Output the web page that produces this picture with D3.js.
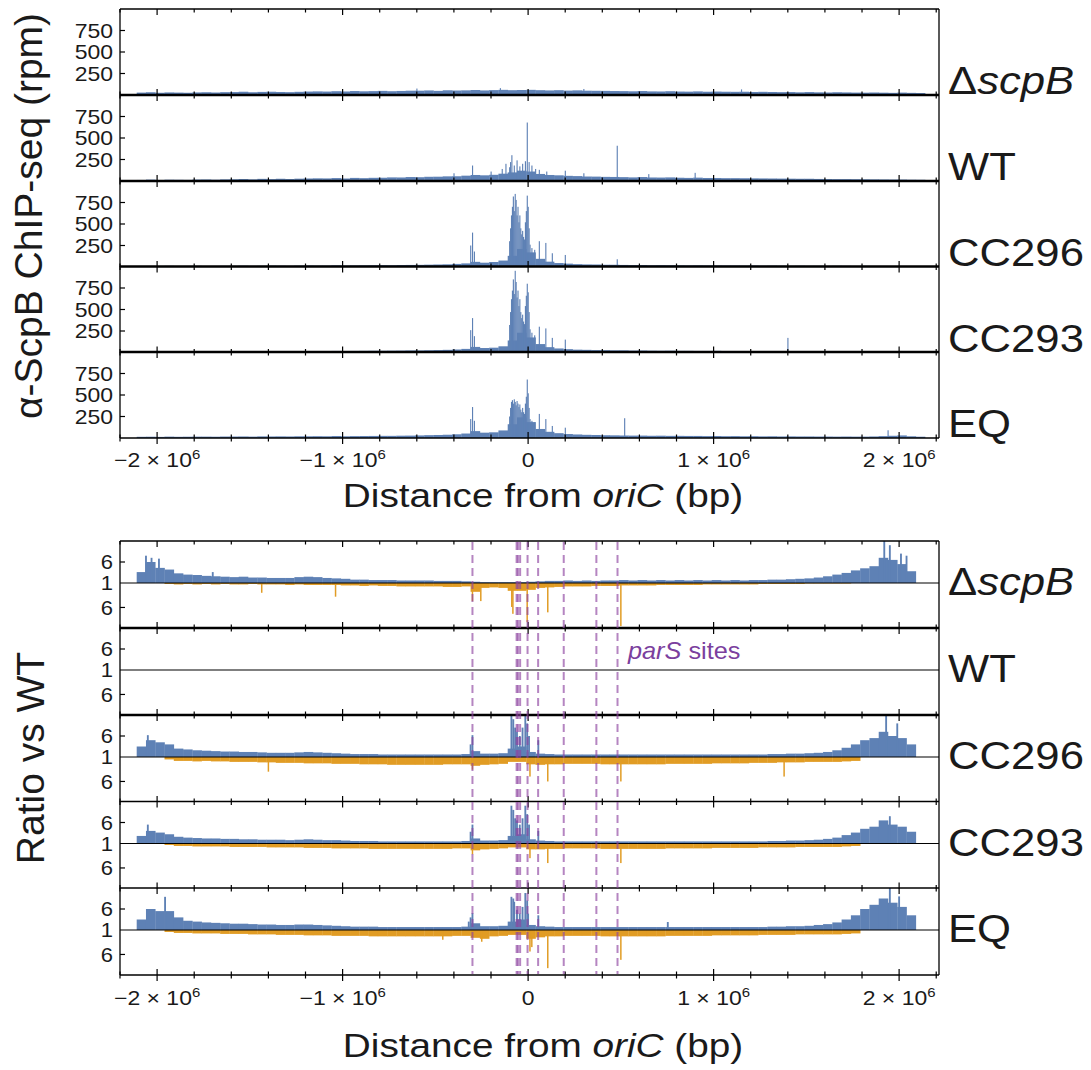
<!DOCTYPE html>
<html><head><meta charset="utf-8">
<script src="https://cdn.jsdelivr.net/npm/d3@7"></script>
<style>
body{margin:0;background:#fff}
text{font-family:"Liberation Sans",Arial,Helvetica,sans-serif;fill:#1a1a1a}
</style></head>
<body><svg id="chart" width="1091" height="1070"></svg>
<script>
// ---------------- DATA ----------------
const binStart = -2110000, binSize = 50000;
const sampleNames = ["ΔscpB", "WT", "CC296", "CC293", "EQ"];

// ChIP-seq background (rpm), 50 kb bins
const chipDeltaScpB = [28,32,26,30,28,26,30,32,29,33, 34,38,32,36,38,35,33,37,40,42, 40,44,41,46,43,45,48,44,47,50, 50,53,48,55,52,54,58,53,57,60,56,58, 60,56,53,56,51,54,50,49,48,46,45, 43,46,42,41,44,40,39,42,38,40,38,37, 38,35,37,35,33,34,31,34,31,29,32, 30,28,27,29,27,25,28,25,23];
const chipWT = [12,16,12,15,14,13,17,18,15,19, 20,23,19,25,22,26,23,27,29,31, 30,34,29,36,33,37,38,42,41,46, 44,49,50,54,55,62,70,66,72,85,100,120, 110,82,70,66,60,57,52,51,48,47,45, 42,46,41,40,42,38,36,39,35,35,33,33, 32,31,30,29,28,27,26,26,24,23,22, 22,21,20,19,18,17,17,15,14];
const chipCC296 = [10,12,9,13,10,12,13,11,12,13, 14,15,13,14,16,15,14,16,17,16, 16,19,16,18,19,20,21,20,23,24, 25,27,29,31,36,42,60,50,58,75,130,210, 170,95,62,46,39,33,30,29,26,26,24, 22,23,20,21,20,19,18,19,18,18,17,17, 16,17,15,16,15,14,15,14,14,13,14, 13,12,13,12,12,11,12,10,10];
const chipCC293 = [10,11,9,12,10,12,12,11,12,13, 14,14,13,15,15,16,14,15,17,16, 16,18,17,18,19,20,20,21,22,24, 24,26,28,31,35,42,65,52,56,72,140,230, 175,98,62,47,39,33,31,28,27,25,25, 22,23,21,20,21,19,19,18,18,19,17,17, 16,17,15,15,16,14,14,15,14,13,13, 13,12,12,13,12,11,11,10,10];
const chipEQ = [14,15,13,16,14,15,16,16,15,17, 17,18,16,19,18,19,18,20,20,21, 20,23,20,22,23,24,25,25,27,28, 30,33,35,38,43,52,80,62,66,88,160,240, 185,105,72,56,46,41,37,35,32,31,29, 28,28,26,27,25,25,24,24,22,23,21,22, 20,21,19,20,18,19,18,18,17,17,16, 17,16,16,18,22,26,30,20,15];

// ChIP-seq narrow peaks [position bp, rpm], 5 kb wide
const peaksDeltaScpB = [[-600000,75],[-150000,80],[300000,70],[1150000,65]];
const peaksWT = [[-400000,90],[-300000,180],[-200000,110],[-140000,140],[-120000,200],[-100000,160],[-95000,220],[-88000,300],[-75000,180],[-60000,240],[-45000,170],[-30000,200],[-15000,230],[-5000,680],[5000,220],[20000,180],[40000,140],[60000,130],[100000,110],[200000,120],[300000,90],[480000,410],[650000,80],[900000,95]];
const peaksCC296 = [[-310000,250],[-300000,400],[-290000,180],[-100000,300],[-95000,450],[-90000,600],[-85000,700],[-80000,820],[-75000,650],[-70000,850],[-65000,780],[-60000,600],[-55000,700],[-50000,520],[-45000,600],[-40000,450],[-35000,380],[-30000,420],[-25000,350],[-20000,320],[-15000,520],[-10000,650],[-5000,830],[0,700],[5000,450],[10000,260],[20000,220],[35000,200],[60000,300],[95000,280],[130000,160],[200000,140],[480000,90]];
const peaksCC293 = [[-310000,260],[-300000,400],[-290000,190],[-100000,320],[-95000,470],[-90000,620],[-85000,720],[-80000,850],[-75000,680],[-70000,950],[-65000,820],[-60000,640],[-55000,720],[-50000,540],[-45000,620],[-40000,470],[-35000,400],[-30000,440],[-25000,360],[-20000,330],[-15000,540],[-10000,660],[-5000,800],[0,700],[5000,470],[10000,270],[20000,230],[35000,200],[60000,300],[95000,280],[130000,170],[200000,150],[1400000,170]];
const peaksEQ = [[-310000,220],[-300000,360],[-290000,200],[-100000,250],[-95000,350],[-90000,420],[-85000,440],[-80000,400],[-75000,450],[-70000,420],[-65000,380],[-60000,430],[-55000,400],[-50000,360],[-45000,390],[-40000,330],[-35000,300],[-30000,350],[-25000,300],[-20000,280],[-15000,400],[-10000,480],[-5000,680],[0,520],[5000,350],[10000,220],[20000,200],[35000,180],[60000,280],[95000,220],[130000,140],[200000,120],[520000,230],[1940000,90]];

// Ratio vs WT: blue = ratio above 1, orange = inverse ratio below 1 (50 kb bins)
const upDeltaScpB = [3.6,6.0,4.6,4.2,3.3,3.0,2.9,2.7,2.6,2.5, 2.4,2.5,2.3,2.3,2.2,2.2,2.2,2.4,2.5,2.4, 2.2,2.1,2.0,1.8,1.8,1.7,1.7,1.7,1.6,1.6, 1.6,1.6,1.5,1.5,1.5,1.4,1.3,1.2,1.2,1.2,1.2,1.2, 1.3,1.4,1.5,1.5,1.6,1.5,1.6,1.5,1.6,1.6,1.7, 1.6,1.7,1.6,1.7,1.6,1.7,1.6,1.7,1.6,1.7,1.6,1.7, 1.6,1.7,1.7,1.8,1.8,1.9,2.0,2.1,2.3,2.6,3.0, 3.4,4.0,4.5,5.0,7.0,6.5,5.5,3.8];
const downDeltaScpB = [1,1,1,1.2,1.3,1.2,1.3,1.2,1.3,1.2, 1.3,1.3,1.2,1.3,1.3,1.3,1.4,1.3,1.4,1.4, 1.4,1.4,1.5,1.5,1.6,1.5,1.6,1.6,1.7,1.7, 1.7,1.7,1.7,1.8,1.8,1.7,2.8,2.0,1.9,2.0,2.6,2.6, 2.4,2.0,1.9,1.8,1.7,1.7,1.7,1.6,1.6,1.6,1.5, 1.5,1.5,1.5,1.4,1.4,1.4,1.4,1.4,1.3,1.3,1.3,1.3, 1.3,1.3,1.2,1.2,1.2,1.2,1.2,1.1,1.1,1.1,1.1, 1.1,1.0,1,1,1,1,1,1];
const upCC296 = [3.5,5.0,4.5,4.0,3.0,2.8,2.6,2.5,2.4,2.3, 2.3,2.2,2.2,2.1,2.0,2.0,2.0,2.1,2.2,2.1, 2.0,1.9,1.8,1.7,1.7,1.7,1.6,1.6,1.6,1.6, 1.6,1.6,1.6,1.6,1.6,1.7,2.4,1.8,1.8,1.9,3.0,3.5, 2.2,1.8,1.7,1.6,1.6,1.6,1.6,1.6,1.6,1.6,1.6, 1.6,1.6,1.6,1.6,1.6,1.6,1.6,1.6,1.6,1.6,1.6,1.6, 1.6,1.6,1.6,1.7,1.7,1.8,1.8,1.9,2.0,2.2,2.6, 3.2,4.0,5.0,5.5,7.0,6.0,5.5,4.0];
const downCC296 = [1,1,1,1.5,1.8,1.8,1.9,1.8,1.9,1.9, 2.0,2.0,2.0,2.1,2.1,2.2,2.2,2.2,2.3,2.3, 2.3,2.4,2.4,2.4,2.5,2.5,2.5,2.6,2.6,2.6, 2.6,2.6,2.6,2.5,2.5,2.5,2.8,2.6,2.5,2.4,2.0,2.0, 2.5,2.6,2.5,2.5,2.4,2.4,2.4,2.4,2.5,2.5,2.5, 2.5,2.5,2.5,2.5,2.4,2.4,2.4,2.4,2.4,2.3,2.3,2.3, 2.3,2.2,2.2,2.2,2.1,2.1,2.1,2.0,2.0,2.0,2.0, 1.9,1.8,1,1,1,1,1,1];
const upCC293 = [2.8,4.0,3.6,3.2,2.6,2.4,2.3,2.2,2.2,2.1, 2.1,2.0,2.0,1.9,1.9,1.9,1.8,1.9,2.0,1.9, 1.8,1.8,1.7,1.6,1.6,1.6,1.5,1.5,1.5,1.5, 1.5,1.5,1.5,1.5,1.5,1.6,2.2,1.7,1.7,1.8,2.8,3.2, 2.0,1.7,1.6,1.5,1.5,1.5,1.5,1.5,1.5,1.5,1.5, 1.5,1.5,1.5,1.5,1.5,1.5,1.5,1.5,1.5,1.5,1.5,1.5, 1.5,1.5,1.5,1.6,1.6,1.7,1.7,1.8,1.9,2.1,2.4, 3.0,3.6,4.5,5.0,6.5,5.5,5.0,3.8];
const downCC293 = [1,1,1,1.3,1.5,1.5,1.6,1.6,1.6,1.6, 1.7,1.7,1.7,1.7,1.8,1.8,1.8,1.8,1.9,1.9, 1.9,2.0,2.0,2.0,2.0,2.1,2.1,2.1,2.1,2.1, 2.1,2.1,2.1,2.1,2.0,2.0,2.4,2.2,2.1,2.0,1.8,1.8, 2.2,2.2,2.1,2.1,2.0,2.0,2.0,2.0,2.1,2.1,2.1, 2.1,2.1,2.1,2.1,2.0,2.0,2.0,2.0,2.0,1.9,1.9,1.9, 1.9,1.9,1.8,1.8,1.8,1.8,1.7,1.7,1.7,1.7,1.7, 1.6,1.5,1,1,1,1,1,1];
const upEQ = [3.5,6.0,5.5,5.5,4.0,3.2,3.0,2.8,2.7,2.6, 2.5,2.5,2.4,2.3,2.3,2.2,2.2,2.3,2.3,2.2, 2.1,2.0,1.9,1.8,1.8,1.8,1.7,1.7,1.7,1.7, 1.7,1.7,1.7,1.7,1.7,1.8,2.6,1.9,1.9,2.0,3.0,3.5, 2.2,1.9,1.8,1.7,1.7,1.7,1.7,1.7,1.7,1.7,1.7, 1.7,1.7,1.7,1.7,1.7,1.7,1.7,1.7,1.7,1.7,1.7,1.7, 1.7,1.7,1.7,1.8,1.8,1.9,1.9,2.0,2.2,2.4,2.8, 3.5,4.5,6.0,7.0,8.5,7.5,6.5,4.5];
const downEQ = [1,1,1,1.4,1.6,1.6,1.7,1.7,1.7,1.8, 1.8,1.8,1.9,1.9,1.9,2.0,2.0,2.0,2.1,2.1, 2.1,2.2,2.2,2.2,2.2,2.3,2.3,2.3,2.3,2.3, 2.3,2.3,2.3,2.3,2.2,2.2,2.6,2.8,2.3,2.2,2.0,2.0, 2.8,2.5,2.3,2.3,2.2,2.2,2.2,2.2,2.3,2.3,2.3, 2.3,2.3,2.3,2.3,2.2,2.2,2.2,2.2,2.2,2.1,2.1,2.1, 2.1,2.1,2.0,2.0,2.0,2.0,1.9,1.9,1.9,1.9,1.9, 1.8,1.7,1,1,1,1,1,1];
// visible narrow spikes [position bp, ratio], 10 kb wide
const spikesUp = {
  "ΔscpB": [[-2060000,7.5],[-2030000,7.0],[-1990000,6.8],[-1700000,3.6],[1920000,11],[1950000,10],[2010000,8],[2040000,7.5]],
  "CC296": [[-2050000,6.2],[-310000,4.0],[-300000,6.2],[-90000,11],[-80000,10],[-70000,8],[-60000,7],[-45000,6],[-30000,8],[-15000,11],[-5000,9],[5000,6],[55000,5],[1930000,11],[1990000,9]],
  "CC293": [[-2050000,5.5],[-310000,3.8],[-300000,5.5],[-90000,10],[-80000,9],[-70000,7],[-60000,6.5],[-45000,5.5],[-30000,7],[-15000,10],[-5000,8],[5000,5.5],[55000,4],[1950000,7.5]],
  "EQ": [[-1957000,8.9],[-320000,3.0],[-310000,4.0],[-300000,5.0],[-90000,8.9],[-80000,8.5],[-75000,7.7],[-60000,5.8],[-45000,4.9],[-30000,6.5],[-15000,9.8],[-5000,8],[0,4.9],[55000,4.5],[753000,2.9],[1950000,11],[2000000,9]]
};
const spikesDown = {
  "ΔscpB": [[-1436000,3.0],[-1038000,3.8],[-300000,4.7],[-255000,4.7],[-88000,5.9],[-82000,7.3],[-5000,9.0],[106000,7.0],[500000,9.8]],
  "CC296": [[-1400000,4.0],[-300000,3.6],[10000,5.0],[106000,6.0],[500000,6.0],[1380000,5.0]],
  "CC293": [[-300000,3.2],[10000,4.0],[106000,5.0],[500000,5.0]],
  "EQ": [[-460000,3.0],[-250000,3.4],[10000,5.4],[20000,4.5],[106000,8.8],[500000,7.1]]
};

const parSSites = [-300000, -62000, -55000, -43000, -3000, 54000, 192000, 368000, 482000];
const xMajorTicks = [-2000000, -1000000, 0, 1000000, 2000000];
const chipTicks = [250, 500, 750];

// ---------------- DRAW ----------------
const svg = d3.select("#chart");
const blue = "#5e81b5", orange = "#e19c24", purple = "#8e44a0";
const x = d3.scaleLinear().domain([-2200000, 2215000]).range([120, 939]);
const minorTicks = d3.range(-2200000, 2200001, 200000);

function label(g, px, py, str, size, anchor, sx) {
  return g.append("text").attr("transform", `translate(${px},${py}) scale(${sx},1)`)
    .attr("font-size", size).attr("text-anchor", anchor || "start").text(str);
}
function sampleLabel(g, px, py, name) {
  const t = g.append("text").attr("transform", `translate(${px},${py}) scale(1.12,1)`).attr("font-size", 39);
  if (name === "ΔscpB") {
    t.append("tspan").text("Δ");
    t.append("tspan").attr("font-style", "italic").text("scpB");
  } else t.text(name);
}
function xTickMarks(g, y, dir) {
  minorTicks.forEach(v => {
    const major = Math.abs(v % 1000000) < 1;
    const len = major ? 6 : 3.5;
    g.append("line").attr("x1", x(v)).attr("x2", x(v)).attr("y1", y).attr("y2", y + dir * len)
      .attr("stroke", "#000").attr("stroke-width", 1.2);
  });
}
function xTickLabels(g, y) {
  xMajorTicks.forEach(v => {
    const t = g.append("text").attr("transform", `translate(${x(v)},${y}) scale(1.15,1)`)
      .attr("font-size", 20).attr("text-anchor", "middle");
    if (v === 0) { t.text("0"); return; }
    const m = v / 1000000;
    t.append("tspan").text((m < 0 ? "−" + (-m) : m) + " × 10");
    t.append("tspan").attr("font-size", 13).attr("dy", -8).text("6");
  });
}
function xTitle(g, y) {
  const t = g.append("text").attr("transform", `translate(543,${y}) scale(1.14,1)`)
    .attr("font-size", 34).attr("text-anchor", "middle");
  t.append("tspan").text("Distance from ");
  t.append("tspan").attr("font-style", "italic").text("oriC");
  t.append("tspan").text(" (bp)");
}

// ---- ChIP-seq panels ----
const chipData = [chipDeltaScpB, chipWT, chipCC296, chipCC293, chipEQ];
const chipPeaks = [peaksDeltaScpB, peaksWT, peaksCC296, peaksCC293, peaksEQ];
const chipTops = [9, 95, 181, 266.5, 352];
const chipH = 86;
const gTop = svg.append("g");
chipTops.forEach((top, k) => {
  const y = d3.scaleLinear().domain([0, 1000]).range([top + chipH, top]);
  const g = gTop.append("g");
  g.selectAll("rect.bg").data(chipData[k]).join("rect")
    .attr("x", (d, i) => x(binStart + i * binSize)).attr("width", x(binSize) - x(0) + 0.3)
    .attr("y", d => y(d)).attr("height", d => y(0) - y(d)).attr("fill", blue);
  g.selectAll("rect.pk").data(chipPeaks[k]).join("rect")
    .attr("x", d => x(d[0] - 2500)).attr("width", x(5000) - x(0) + 0.2)
    .attr("y", d => y(d[1])).attr("height", d => y(0) - y(d[1])).attr("fill", blue);
  g.append("line").attr("x1", 120).attr("x2", 939).attr("y1", top).attr("y2", top)
    .attr("stroke", "#000").attr("stroke-width", k === 0 ? 1.3 : 2.4);
  xTickMarks(g, top, 1);
  xTickMarks(g, top + chipH, -1);
  chipTicks.forEach(v => {
    g.append("line").attr("x1", 120).attr("x2", 125).attr("y1", y(v)).attr("y2", y(v)).attr("stroke", "#000").attr("stroke-width", 1.2);
    label(g, 113, y(v) + 7, v, 20, "end", 1.15);
  });
  sampleLabel(g, 948, top + 85, sampleNames[k]);
});
gTop.append("line").attr("x1", 120).attr("x2", 939).attr("y1", 438).attr("y2", 438).attr("stroke", "#000").attr("stroke-width", 1.5);
gTop.append("line").attr("x1", 120).attr("x2", 120).attr("y1", 9).attr("y2", 438).attr("stroke", "#000").attr("stroke-width", 1.3);
gTop.append("line").attr("x1", 939).attr("x2", 939).attr("y1", 9).attr("y2", 438).attr("stroke", "#000").attr("stroke-width", 1.3);
xTickMarks(gTop, 438, 1);
xTickLabels(gTop, 467);
xTitle(gTop, 507);
svg.append("text").attr("transform", "translate(42,216) rotate(-90)").attr("font-size", 39)
  .attr("text-anchor", "middle").text("α-ScpB ChIP-seq (rpm)");

// ---- Ratio panels ----
const upData = [upDeltaScpB, null, upCC296, upCC293, upEQ];
const downData = [downDeltaScpB, null, downCC296, downCC293, downEQ];
const ratioTops = [541, 628, 715, 801.5, 888];
const ratioH = 87, ratioMid = 42;
const gBot = svg.append("g");
ratioTops.forEach((top, k) => {
  const mid = top + ratioMid;
  const yUp = d3.scaleLinear().domain([1, 11]).range([mid, top]).clamp(true);
  const yDn = d3.scaleLinear().domain([1, 10.2]).range([mid, top + ratioH]).clamp(true);
  const g = gBot.append("g");
  const name = sampleNames[k];
  if (upData[k]) {
    g.selectAll("rect.up").data(upData[k]).join("rect")
      .attr("x", (d, i) => x(binStart + i * binSize)).attr("width", x(binSize) - x(0) + 0.3)
      .attr("y", d => yUp(d)).attr("height", d => mid - yUp(d)).attr("fill", blue);
    g.selectAll("rect.dn").data(downData[k]).join("rect")
      .attr("x", (d, i) => x(binStart + i * binSize)).attr("width", x(binSize) - x(0) + 0.3)
      .attr("y", mid).attr("height", d => yDn(d) - mid).attr("fill", orange);
    g.selectAll("rect.su").data(spikesUp[name] || []).join("rect")
      .attr("x", d => x(d[0] - 5000)).attr("width", x(10000) - x(0))
      .attr("y", d => yUp(d[1])).attr("height", d => mid - yUp(d[1])).attr("fill", blue);
    g.selectAll("rect.sd").data(spikesDown[name] || []).join("rect")
      .attr("x", d => x(d[0] - 4000)).attr("width", x(8000) - x(0))
      .attr("y", mid).attr("height", d => yDn(d[1]) - mid).attr("fill", orange);
  }
  g.append("line").attr("x1", 120).attr("x2", 939).attr("y1", mid).attr("y2", mid).attr("stroke", "#000").attr("stroke-width", 1.2);
  g.append("line").attr("x1", 120).attr("x2", 939).attr("y1", top).attr("y2", top)
    .attr("stroke", "#000").attr("stroke-width", (k === 1 || k === 2) ? 2.6 : 1.4);
  xTickMarks(g, top, 1);
  xTickMarks(g, top + ratioH, -1);
  [[yUp(6), "6"], [mid, "1"], [yDn(6), "6"]].forEach(([py, s]) => {
    if (s === "6") g.append("line").attr("x1", 120).attr("x2", 125).attr("y1", py).attr("y2", py).attr("stroke", "#000").attr("stroke-width", 1.2);
    label(g, 113, py + 7.2, s, 20, "end", 1.1);
  });
  sampleLabel(g, 948, top + 54, name);
});
gBot.append("line").attr("x1", 120).attr("x2", 939).attr("y1", 975).attr("y2", 975).attr("stroke", "#000").attr("stroke-width", 1.5);
gBot.append("line").attr("x1", 120).attr("x2", 120).attr("y1", 541).attr("y2", 975).attr("stroke", "#000").attr("stroke-width", 1.3);
gBot.append("line").attr("x1", 939).attr("x2", 939).attr("y1", 541).attr("y2", 975).attr("stroke", "#000").attr("stroke-width", 1.3);
xTickMarks(gBot, 975, 1);
gBot.selectAll("line.pars").data(parSSites).join("line")
  .attr("x1", d => x(d)).attr("x2", d => x(d)).attr("y1", 542).attr("y2", 974)
  .attr("stroke", purple).attr("stroke-width", 2).attr("stroke-opacity", 0.65).attr("stroke-dasharray", "8,5");
const ps = gBot.append("text").attr("transform", "translate(628,659) scale(1.1,1)").attr("font-size", 23);
ps.append("tspan").attr("font-style", "italic").attr("fill", "#7b3f9e").text("parS");
ps.append("tspan").attr("fill", "#7b3f9e").text(" sites");
xTickLabels(gBot, 1005);
xTitle(gBot, 1057);
svg.append("text").attr("transform", "translate(44,758) rotate(-90)").attr("font-size", 39)
  .attr("text-anchor", "middle").text("Ratio vs WT");
</script></body></html>
